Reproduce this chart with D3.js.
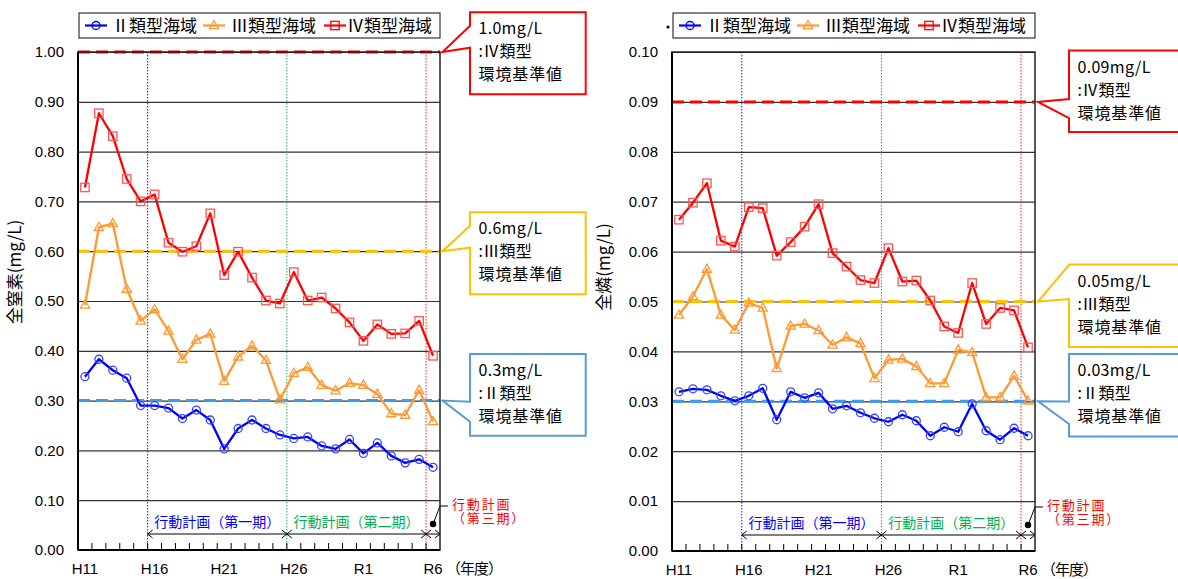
<!DOCTYPE html>
<html><head><meta charset="utf-8">
<script src="https://cdn.jsdelivr.net/npm/d3@7/dist/d3.min.js"></script>
<style>
body{margin:0;background:#fff;}
svg{display:block;}
</style></head><body>
<svg id="c" width="1178" height="579"></svg>
<script>
// ---------- data ----------
const years = ["H11","H12","H13","H14","H15","H16","H17","H18","H19","H20",
  "H21","H22","H23","H24","H25","H26","H27","H28","H29","H30",
  "R1","R2","R3","R4","R5","R6"];
const xTickLabels = ["H11","H16","H21","H26","R1","R6"];
const seriesNames = ["Ⅱ類型海域","Ⅲ類型海域","Ⅳ類型海域"];

// 全窒素 (mg/L)
const tnII  = [0.348,0.383,0.361,0.345,0.290,0.290,0.285,0.264,0.281,0.261,
  0.203,0.244,0.261,0.244,0.231,0.224,0.227,0.209,0.203,0.222,
  0.194,0.215,0.189,0.175,0.182,0.166];
const tnIII = [0.492,0.648,0.656,0.524,0.460,0.483,0.440,0.383,0.422,0.434,
  0.339,0.388,0.410,0.381,0.302,0.355,0.367,0.331,0.320,0.335,
  0.331,0.313,0.274,0.271,0.321,0.258];
const tnIV  = [0.728,0.877,0.831,0.745,0.700,0.714,0.617,0.599,0.610,0.676,
  0.552,0.599,0.547,0.501,0.495,0.558,0.501,0.507,0.485,0.457,
  0.420,0.453,0.434,0.435,0.460,0.390];

// 全燐 (mg/L)
const tpII  = [0.0319,0.0325,0.0323,0.0311,0.0301,0.0311,0.0326,0.0263,0.0319,0.0307,
  0.0317,0.0285,0.0291,0.0277,0.0266,0.0259,0.0273,0.0261,0.0231,0.0248,
  0.0239,0.0295,0.0241,0.0223,0.0246,0.0231];
const tpIII = [0.0473,0.0510,0.0565,0.0473,0.0443,0.0497,0.0487,0.0366,0.0451,0.0455,
  0.0442,0.0413,0.0428,0.0416,0.0346,0.0383,0.0385,0.0370,0.0336,0.0336,
  0.0403,0.0398,0.0308,0.0308,0.0351,0.0301];
const tpIV  = [0.0664,0.0698,0.0737,0.0622,0.0610,0.0689,0.0687,0.0592,0.0619,0.0650,
  0.0695,0.0597,0.0570,0.0543,0.0537,0.0607,0.0540,0.0542,0.0502,0.0450,
  0.0437,0.0537,0.0455,0.0487,0.0482,0.0408];

const tnTicks = [0,0.1,0.2,0.3,0.4,0.5,0.6,0.7,0.8,0.9,1.0];
const tpTicks = [0,0.01,0.02,0.03,0.04,0.05,0.06,0.07,0.08,0.09,0.10];
const tnStandards = [0.3, 0.6, 1.0];
const tpStandards = [0.03, 0.05, 0.09];
const tnStdLabels = ["0.3mg/L","0.6mg/L","1.0mg/L"];
const tpStdLabels = ["0.03mg/L","0.05mg/L","0.09mg/L"];
const stdTypeLabels = [":Ⅱ類型",":Ⅲ類型",":Ⅳ類型"];
const stdNote = "環境基準値";
const planStarts = ["H16","H26","R6"];
const planLabels = ["行動計画（第一期）","行動計画（第二期）"];
const plan3Label = ["行動計画","（第三期）"];
const yearUnit = "（年度）";

// ---------- drawing ----------
const svg = d3.select("#c");
const FL = "'Liberation Sans', Arial, sans-serif";
const FJ = "'Noto Sans CJK JP', 'Noto Sans', sans-serif";
const seriesColors = ["#0000FF","#FF9933","#FF0000"];
const markerColors = ["#3344FF","#FF9933","#FF5555"];
const stdLineColors = ["#3D9BF0","#FFC000","#FF0000"];
const boxColors = ["#5B9BD5","#FFC000","#FF0000"];
const planColors = ["#0000FF","#00B050","#FF0000"];

function marker(sel, type, color){
  if(type===0){
    sel.append("circle").attr("r",4).attr("fill","none").attr("stroke",color).attr("stroke-width",1.3);
  } else if(type===1){
    sel.append("path").attr("d","M0,-5L4.6,3.2L-4.6,3.2Z").attr("fill","none").attr("stroke",color).attr("stroke-width",1.3);
  } else {
    sel.append("rect").attr("x",-4.2).attr("y",-4.2).attr("width",8.4).attr("height",8.4)
      .attr("fill","none").attr("stroke",color).attr("stroke-width",1.3);
  }
}

function drawChart(cfg){
  const g = svg.append("g");
  const x = d3.scaleBand().domain(years).range([cfg.x0, cfg.x1]);
  const y = d3.scaleLinear().domain([0, cfg.yMax]).range([cfg.y1, cfg.y0]);
  const cx = d => x(d) + x.bandwidth()/2;
  const W = cfg.x1 - cfg.x0;

  // gridlines + y labels
  const ya = g.append("g").attr("transform",`translate(${cfg.x0},0)`)
    .call(d3.axisLeft(y).tickValues(cfg.ticks).tickFormat(d3.format(".2f")).tickSize(-W).tickPadding(14));
  ya.select(".domain").remove();
  ya.selectAll(".tick line").attr("stroke","#333").attr("stroke-width",1.2);
  ya.selectAll(".tick text").attr("font-family",FL).attr("font-size",15).attr("fill","#000");

  // vertical dotted plan lines
  planStarts.forEach((p,i)=>{
    g.append("line").attr("x1",x(p)).attr("x2",x(p)).attr("y1",cfg.y0).attr("y2",cfg.y1)
      .attr("stroke",planColors[i]).attr("stroke-width",1).attr("stroke-dasharray","1.5,1.5").attr("opacity",0.9);
  });

  // standard dashed lines
  cfg.stds.forEach((s,i)=>{
    g.append("line").attr("x1",cfg.x0).attr("x2",cfg.x1).attr("y1",y(s)).attr("y2",y(s))
      .attr("stroke",stdLineColors[i]).attr("stroke-width",3).attr("stroke-dasharray","12,6");
  });

  // x ticks (category boundaries)
  years.forEach(d=>{
    g.append("line").attr("x1",x(d)).attr("x2",x(d)).attr("y1",cfg.y1-7).attr("y2",cfg.y1)
      .attr("stroke","#000").attr("stroke-width",1);
  });
  xTickLabels.forEach(d=>{
    g.append("text").attr("x",cx(d)).attr("y",cfg.y1+24).attr("text-anchor","middle")
      .attr("font-family",FL).attr("font-size",15).text(d);
  });
  g.append("text").attr("x",cfg.x1+6).attr("y",cfg.y1+24).attr("font-family",FJ).attr("font-size",15)
    .attr("letter-spacing",-1).text(yearUnit);

  // plan arrows
  const ay = cfg.y1 - 16;
  const ends = [x("H16"), x("H26"), x("R6"), cfg.x1];
  for(let i=0;i<3;i++){
    const a = ends[i], b = ends[i+1];
    g.append("line").attr("x1",a).attr("x2",b).attr("y1",ay).attr("y2",ay).attr("stroke","#000").attr("stroke-width",1);
    g.append("path").attr("d",`M${a+5},${ay-4}L${a},${ay}L${a+5},${ay+4}`).attr("fill","none").attr("stroke","#000").attr("stroke-width",1);
    g.append("path").attr("d",`M${b-5},${ay-4}L${b},${ay}L${b-5},${ay+4}`).attr("fill","none").attr("stroke","#000").attr("stroke-width",1);
  }
  planLabels.forEach((t,i)=>{
    g.append("text").attr("x",(ends[i]+ends[i+1])/2).attr("y",cfg.y1-23).attr("text-anchor","middle")
      .attr("font-family",FJ).attr("font-size",14).attr("fill",planColors[i]).text(t);
  });
  // third plan annotation
  const dx = cx("R6"), dy = cfg.y1 - 26;
  g.append("circle").attr("cx",dx).attr("cy",dy).attr("r",3.2).attr("fill","#000");
  g.append("path").attr("d",`M${dx},${dy}L${dx+7},${cfg.y1-44}L${dx+15},${cfg.y1-44}`)
    .attr("fill","none").attr("stroke","#000").attr("stroke-width",1);
  plan3Label.forEach((t,i)=>{
    g.append("text").attr("x",dx+19).attr("y",cfg.y1-41+i*14).attr("font-family",FJ).attr("font-size",13)
      .attr("letter-spacing",1.8).attr("fill","#FF0000").text(t);
  });

  // series
  const line = d3.line().x((d,i)=>cx(years[i])).y(d=>y(d));
  cfg.series.forEach((vals,si)=>{
    g.append("path").datum(vals).attr("d",line).attr("fill","none")
      .attr("stroke",seriesColors[si]).attr("stroke-width",2.3).attr("stroke-linejoin","round");
  });
  cfg.series.forEach((vals,si)=>{
    vals.forEach((v,i)=>{
      const m = g.append("g").attr("transform",`translate(${cx(years[i])},${y(v)})`);
      marker(m, si, markerColors[si]);
    });
  });

  // plot border
  g.append("rect").attr("x",cfg.x0).attr("y",cfg.y0).attr("width",W).attr("height",cfg.y1-cfg.y0)
    .attr("fill","none").attr("stroke","#222").attr("stroke-width",1.5);
  g.append("line").attr("x1",cfg.x0).attr("x2",cfg.x0).attr("y1",cfg.y0).attr("y2",cfg.y1)
    .attr("stroke","#000").attr("stroke-width",2);
  g.append("line").attr("x1",cfg.x0).attr("x2",cfg.x1).attr("y1",cfg.y1).attr("y2",cfg.y1)
    .attr("stroke","#000").attr("stroke-width",2);

  // y axis title
  g.append("text").attr("transform",`translate(${cfg.titleX},${cfg.titleY}) rotate(-90)`)
    .attr("text-anchor","middle").attr("font-family",FJ).attr("font-size",17).text(cfg.yTitle);

  // legend
  const lg = g.append("g");
  lg.append("rect").attr("x",cfg.x0+1).attr("y",13).attr("width",W-1).attr("height",25)
    .attr("fill","#fff").attr("stroke","#333").attr("stroke-width",1.2);
  const lineOff = [7,125,246], textOff = [34,153,269];
  seriesNames.forEach((n,i)=>{
    const lx = cfg.x0 + lineOff[i];
    lg.append("line").attr("x1",lx).attr("x2",lx+22).attr("y1",25.5).attr("y2",25.5)
      .attr("stroke",seriesColors[i]).attr("stroke-width",2.2);
    const m = lg.append("g").attr("transform",`translate(${lx+11},25.5)`);
    marker(m, i, seriesColors[i]);
    lg.append("text").attr("x",cfg.x0+textOff[i]).attr("y",32).attr("font-family",FJ).attr("font-size",17).text(n);
  });

  // callouts
  cfg.callouts.forEach((c,i)=>{
    const L = cfg.boxX, R = L + cfg.boxW, tipX = cfg.tipX, tipY = y(cfg.stds[i]);
    const p = `M${L},${c.top}L${R},${c.top}L${R},${c.bot}L${L},${c.bot}L${L},${c.a2}L${tipX},${tipY}L${L},${c.a1}Z`;
    g.append("path").attr("d",p).attr("fill","#fff").attr("stroke",boxColors[i]).attr("stroke-width",2).attr("stroke-linejoin","miter");
    const lines = [cfg.stdLabels[i], stdTypeLabels[i], stdNote];
    lines.forEach((t,k)=>{
      g.append("text").attr("x",L+8.5).attr("y",c.top+22+k*23).attr("font-family",FJ).attr("font-size",16)
        .attr("letter-spacing",k===2?0.9:0.3).text(t);
    });
  });
}

drawChart({
  x0:78, x1:440, y0:52, y1:550, yMax:1.0, ticks:tnTicks, stds:tnStandards, stdLabels:tnStdLabels,
  series:[tnII,tnIII,tnIV], yTitle:"全窒素(mg/L)", titleX:21, titleY:272,
  boxX:470, boxW:115.7, tipX:442.5,
  callouts:[{top:354,bot:435.7,a1:401.7,a2:421.7},{top:212.3,bot:294.3,a1:225.7,a2:247.7},{top:12.3,bot:94.3,a1:25.7,a2:47.7}]
});
drawChart({
  x0:672, x1:1035, y0:52, y1:551, yMax:0.10, ticks:tpTicks, stds:tpStandards, stdLabels:tpStdLabels,
  series:[tpII,tpIII,tpIV], yTitle:"全燐(mg/L)", titleX:610, titleY:267,
  boxX:1069, boxW:200, tipX:1038,
  callouts:[{top:354,bot:436.5,a1:401.5,a2:424},{top:264.6,bot:347,a1:265,a2:299},{top:50.5,bot:132,a1:99,a2:118}]
});
svg.append("circle").attr("cx",668).attr("cy",27).attr("r",1.6).attr("fill","#000");
</script>
</body></html>
